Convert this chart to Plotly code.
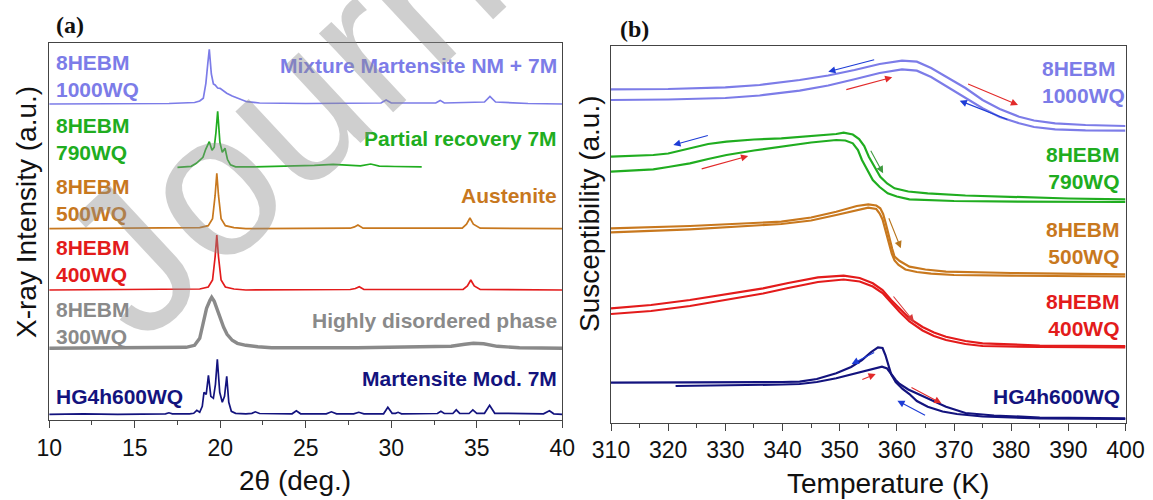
import plotly.graph_objects as go

# ---------------- (a) XRD patterns ----------------
# 2-theta positions (deg.) and intensity above each pattern's own baseline (a.u.)
hg_tt = [10, 12, 14, 16, 16.8, 17.0, 17.2, 18.2, 18.45, 18.63, 18.8, 18.95, 19.05, 19.18, 19.31,
         19.45, 19.6, 19.72, 19.83, 19.97, 20.12, 20.25, 20.38, 20.5, 20.65, 20.9, 21.5, 21.85,
         22.05, 22.3, 24.2, 24.45, 24.7, 26.2, 26.5, 26.8, 27.8, 28.1, 28.4, 29.55, 29.8, 30.05,
         30.25, 30.4, 30.6, 32.7, 32.9, 33.1, 33.6, 33.8, 34.0, 34.55, 34.77, 35.0, 35.45, 35.75,
         36.05, 38.9, 39.25, 39.5, 40]
hg_int = [0, 0.5, 0, 0.5, 0.5, 1.5, 0.5, 0.5, 1, 4, 2, 8, 22, 20, 39,
          18, 16, 30, 55, 22, 12, 18, 38, 12, 3, 1, 0.5, 1,
          2.5, 0.8, 0.5, 3.5, 0.5, 0.5, 2.5, 0.5, 0.5, 2, 0.5, 0.5, 7, 1,
          1, 2, 0.5, 0.8, 3, 0.8, 0.8, 4.5, 1, 0.8, 4.5, 1, 1, 9,
          1, 0.5, 3.5, 0.5, 0]

wq300_tt = [10, 14, 17, 18.0, 18.5, 18.8, 19.0, 19.2, 19.4, 19.5, 19.65, 19.8, 20.0, 20.2, 20.4,
            20.7, 21.0, 21.5, 22.2, 23, 28, 32, 33.5, 34.3, 34.8, 35.4, 36.2, 37.5, 40]
wq300_int = [0, 0.5, 0.5, 1, 3, 10, 25, 40, 48, 51, 47, 40, 30, 21, 14,
             8, 5, 3, 1.5, 0.5, 0.5, 1, 2, 4, 5, 4.5, 2, 0.5, 0]

wq400_tt = [10, 15, 18.8, 19.3, 19.55, 19.7, 19.8, 19.9, 20.05, 20.3, 20.8, 21.5, 27.6, 27.9,
            28.13, 28.4, 34.2, 34.45, 34.65, 34.85, 35.2, 40]
wq400_int = [0, 0.5, 1, 3, 10, 33, 55, 33, 10, 3, 1, 0, 0.5, 1.5,
             3.3, 0.5, 0.5, 4, 10, 4, 0.5, 0]

wq500_tt = [10, 15, 18.8, 19.3, 19.55, 19.7, 19.8, 19.9, 20.05, 20.3, 20.8, 21.5, 27.6, 27.85,
            28.05, 28.35, 34.15, 34.4, 34.6, 34.8, 35.2, 40]
wq500_int = [0, 0.5, 1, 3, 10, 33, 55.4, 33, 10, 3, 1, 0, 0.5, 1.8,
             3.7, 0.5, 0.5, 4.5, 10.7, 4.5, 0.5, 0]

wq790_tt = [17.5, 18.0, 18.3, 18.6, 18.99, 19.15, 19.36, 19.52, 19.65, 19.75, 19.85, 19.98, 20.12,
            20.28, 20.42, 20.6, 20.9, 22, 24, 25.5, 26.6, 27.5, 28.2, 28.8, 29.3, 30.2, 31.78]
wq790_int = [0, 0.5, 1, 4, 10, 18, 25.6, 17, 20, 35, 56, 25, 15,
             19, 8, 2.5, 0.5, 0.5, 1, 2, 3, 2, 1.5, 3.3, 1.2, 0.8, 0.5]

wq1000_tt = [10, 14, 17, 18.5, 18.8, 19.01, 19.16, 19.27, 19.36, 19.48, 19.6, 19.7, 19.85, 19.99,
             20.2, 20.38, 20.7, 21.06, 21.55, 22.3, 25, 29.4, 29.7, 30.0, 32.6, 32.86, 33.1,
             35.45, 35.77, 36.1, 38, 40]
wq1000_int = [0, 0.5, 0.5, 1.5, 3, 5.7, 20.7, 40, 54.7, 30, 20, 19, 16, 15.7,
              13, 10.7, 8, 5.7, 2.3, 1, 0.5, 1, 4, 1, 1, 3.6, 1,
              2, 7.6, 2, 0.5, 0]

# vertical stacking offsets of the six patterns
xrd_offset_hg = 5.7
xrd_offset_300 = 71.7
xrd_offset_400 = 130.0
xrd_offset_500 = 191.3
xrd_offset_790 = 252.7
xrd_offset_1000 = 316.0

# ---------------- (b) susceptibility loops ----------------
lav_T_up = [310, 320, 330, 336, 343, 348, 352.6, 357, 360.9, 363.5, 366, 368.6, 372, 375, 378,
            381.4, 384, 387.7, 393, 400]
lav_chi_up = [333.2, 333.5, 335.2, 337.5, 342.5, 347, 352.5, 358.5, 361.8, 360.8, 354.5, 345.8,
              334.5, 322.5, 313.5, 305.8, 302, 299.2, 297.5, 296.5]
lav_T_dn = lav_T_up
lav_chi_dn = [322.5, 323, 324.5, 327, 331.8, 337, 343.2, 349.5, 353.2, 351.8, 345.5, 336.5, 325,
              314.2, 305.5, 299.2, 295.5, 293.2, 292.2, 291.8]

grn_T_up = [310, 317.4, 320, 323.8, 327, 330.2, 335, 339.8, 345, 349.4, 350.7, 352.3, 353.4, 354.3,
            355.1, 356.1, 357.1, 358.3, 359.6, 362, 365.4, 372, 381.4, 390, 400]
grn_chi_up = [265.8, 267.5, 269, 274.2, 278.5, 280.8, 283, 284.2, 286.5, 288.5, 289.8, 288, 283.5,
              276.5, 265.8, 255.5, 245.8, 239, 234.2, 231, 229.2, 227, 225.2, 224, 223.2]
grn_T_dn = [310, 317.4, 320, 323.8, 327, 330.2, 335, 339.8, 345, 349.4, 351, 352.3, 353.2, 353.9,
            354.9, 355.8, 357, 358.4, 360, 362.2, 370, 381.4, 400]
grn_chi_dn = [250.8, 253.2, 255.5, 259.2, 263.5, 267.5, 272, 275.8, 280, 282.5, 282, 279.2, 272.5,
              262.5, 252.5, 242.5, 235.5, 229.2, 226, 223.2, 221.5, 220.8, 220.5]

org_T_up = [310, 323.8, 339.8, 345, 349.4, 353, 355, 356.4, 357.1, 357.6, 358.0, 358.4, 358.8,
            359.2, 359.6, 360.5, 362.2, 365, 368.6, 380, 400]
org_chi_up = [194.2, 196.5, 200.8, 205, 210.8, 216.5, 218.2, 217, 214.2, 208.5, 200.5, 190.5,
              181.5, 173.5, 165.8, 161.5, 155.8, 153, 150.8, 149.5, 148.2]
org_T_dn = [310, 323.8, 339.8, 345, 349.4, 353, 355, 356.4, 357.0, 357.5, 357.9, 358.3, 358.7,
            359.1, 359.6, 360.3, 361.5, 363.5, 366, 370, 380, 400]
org_chi_dn = [190.2, 193.2, 198.5, 202, 207.5, 212.5, 214.8, 213.5, 209, 203, 195, 186, 177,
              169, 162, 157.5, 153, 150.5, 148.8, 147.5, 146.8, 146]

red_T = [310, 317, 323.8, 330, 336.6, 341, 346.2, 350.7, 353.5, 355.8, 357.5, 359, 360.5, 362.2,
         364.5, 366.5, 368.6, 372, 375, 385, 400]
red_chi_up = [114.2, 117.5, 122.5, 128, 134.2, 139.5, 145.2, 146.8, 144.5, 139.2, 132.5, 122.5,
              113.5, 104.2, 95.5, 90, 85.8, 81.5, 79.2, 77, 76.5]
red_chi_dn = [108.5, 111.5, 116.5, 122.5, 129, 134.5, 140.5, 143, 141, 136, 129.5, 120, 110.5,
              101, 92, 86.5, 82.5, 78.5, 76.5, 75.5, 75.2]

nav_T_cool = [310, 320, 330, 340, 343, 346, 349.4, 352, 353.9, 355.5, 356.7, 357.5, 358, 358.5,
              359, 359.8, 361, 362.2, 363.5, 365.4, 368, 370.5, 375, 385, 400]
nav_chi_cool = [39.8, 39.8, 40, 40.5, 40.8, 43.5, 49.2, 55.5, 62.5, 70.5, 75.2, 74.5, 67.5, 57.5,
                48.5, 40.5, 33.5, 28.5, 21.5, 15.8, 11, 8.5, 6, 4.2, 3.5]
nav_T_heat = [321.3, 330, 340, 343, 346, 349.4, 352, 353.9, 355.8, 357.4, 358.3, 359, 359.8, 360.5,
              362, 364.1, 366, 368.6, 372, 377, 385, 400]
nav_chi_heat = [36.5, 37, 38, 38.5, 40.5, 44.2, 48, 50.8, 54, 55.8, 54, 48.5, 42.5, 38.5,
                33, 27.5, 22.5, 15.8, 9.5, 7, 5, 4.2]

# heating / cooling direction arrows: tail (T, chi) -> head (T, chi)
arrow_tail_T = [356.3, 350.9, 372.2, 379.6, 327.2, 325.6, 355.3, 358.5, 359.2, 356.3, 353.7, 362.3, 365.2]
arrow_tail_chi = [363.2, 332.5, 339.2, 302.5, 287.5, 253.2, 273.2, 205.8, 127.5, 70.8, 42.5, 35.8, 6.5]
arrow_head_T = [348.0, 359.2, 381.2, 371.0, 320.9, 334.0, 357.6, 360.7, 363.0, 352.1, 356.3, 367.8, 360.1]
arrow_head_chi = [350.8, 345.2, 317.5, 321.8, 277.5, 266.5, 249.2, 174.2, 100.8, 58.5, 48.5, 19.2, 21.8]
arrow_kind = ["cool", "heat", "heat", "cool", "cool", "heat", "green", "orange", "red",
              "cool", "heat", "heat", "cool"]

LAV = "#7c7ce8"
GRN = "#20ad20"
ORG = "#c8781e"
RED = "#e31b1b"
GRY = "#8a8a8a"
NAV = "#13137e"
ARROW_COLORS = {"cool": "#1d3cd6", "heat": "#e22a2a", "green": "#3f9a3f",
                "orange": "#b8761e", "red": "#d83a3a"}

SANS = "Liberation Sans, Arial, sans-serif"
SERIF = "Liberation Serif, Times New Roman, serif"

W, H = 1153, 500


def px_x(p):
    return p / W


def px_y(p):
    return 1 - p / H


fig = go.Figure()

# ---- panel (a) traces ----
xrd = [
    (hg_tt, hg_int, xrd_offset_hg, NAV, 1.7),
    (wq300_tt, wq300_int, xrd_offset_300, GRY, 3.4),
    (wq400_tt, wq400_int, xrd_offset_400, RED, 1.7),
    (wq500_tt, wq500_int, xrd_offset_500, ORG, 1.7),
    (wq790_tt, wq790_int, xrd_offset_790, GRN, 1.7),
    (wq1000_tt, wq1000_int, xrd_offset_1000, LAV, 1.7),
]
for tt, inten, off, col, lw in xrd:
    fig.add_trace(go.Scatter(x=tt, y=[v + off for v in inten], mode="lines",
                             line=dict(color=col, width=lw), xaxis="x", yaxis="y",
                             showlegend=False, hoverinfo="skip"))

# ---- panel (b) traces ----
loops = [
    (lav_T_up, lav_chi_up, LAV), (lav_T_dn, lav_chi_dn, LAV),
    (grn_T_up, grn_chi_up, GRN), (grn_T_dn, grn_chi_dn, GRN),
    (org_T_up, org_chi_up, ORG), (org_T_dn, org_chi_dn, ORG),
    (red_T, red_chi_up, RED), (red_T, red_chi_dn, RED),
    (nav_T_cool, nav_chi_cool, NAV), (nav_T_heat, nav_chi_heat, NAV),
]
for T, chi, col in loops:
    fig.add_trace(go.Scatter(x=T, y=chi, mode="lines", line=dict(color=col, width=2.2),
                             xaxis="x2", yaxis="y2", showlegend=False, hoverinfo="skip"))

ann = []


def lab_font(c):
    return dict(family=SANS, size=21, color=c)


# sample labels, panel (a)
left_labels_a = [("<b>8HEBM<br>1000WQ</b>", 344.5, LAV), ("<b>8HEBM<br>790WQ</b>", 280.7, GRN),
                 ("<b>8HEBM<br>500WQ</b>", 220.5, ORG), ("<b>8HEBM<br>400WQ</b>", 159.5, RED),
                 ("<b>8HEBM<br>300WQ</b>", 97.0, GRY), ("<b>HG4h600WQ</b>", 23.3, NAV)]
for txt, yv, col in left_labels_a:
    ann.append(dict(x=10.26, y=yv, xref="x", yref="y", text=txt, showarrow=False,
                    xanchor="left", yanchor="middle", align="left", font=lab_font(col)))
right_labels_a = [("<b>Mixture Martensite NM + 7M</b>", 355, LAV),
                  ("<b>Partial recovery 7M</b>", 282, GRN),
                  ("<b>Austenite</b>", 225, ORG),
                  ("<b>Highly disordered phase</b>", 100, GRY),
                  ("<b>Martensite Mod. 7M</b>", 42, NAV)]
for txt, yv, col in right_labels_a:
    ann.append(dict(x=39.8, y=yv, xref="x", yref="y", text=txt, showarrow=False,
                    xanchor="right", yanchor="middle", align="right", font=lab_font(col)))

# sample labels, panel (b)
ann.append(dict(x=385.1, y=340, xref="x2", yref="y2", text="<b>8HEBM<br>1000WQ</b>",
                showarrow=False, xanchor="left", yanchor="middle", align="left",
                font=lab_font(LAV)))
right_labels_b = [("<b>8HEBM<br>790WQ</b>", 254.7, GRN), ("<b>8HEBM<br>500WQ</b>", 179.5, ORG),
                  ("<b>8HEBM<br>400WQ</b>", 107.5, RED), ("<b>HG4h600WQ</b>", 25.8, NAV)]
for txt, yv, col in right_labels_b:
    ann.append(dict(x=399.4, y=yv, xref="x2", yref="y2", text=txt, showarrow=False,
                    xanchor="right", yanchor="middle", align="right", font=lab_font(col)))

# direction arrows
for tT, tc, hT, hc, kind in zip(arrow_tail_T, arrow_tail_chi, arrow_head_T, arrow_head_chi, arrow_kind):
    ann.append(dict(x=hT, y=hc, ax=tT, ay=tc, xref="x2", yref="y2", axref="x2", ayref="y2",
                    text="", showarrow=True, arrowhead=2, arrowsize=1.3, arrowwidth=1.1,
                    arrowcolor=ARROW_COLORS[kind]))


def paper_text(x, y, text, font, angle=0):
    return dict(x=px_x(x), y=px_y(y), xref="paper", yref="paper", text=text, textangle=angle,
                showarrow=False, xanchor="center", yanchor="middle", font=font)


title_font = dict(family=SANS, size=28, color="#111")
ann += [
    paper_text(27, 212, "X-ray Intensity (a.u.)", title_font, -90),
    paper_text(590, 214, "Susceptibility (a.u.)", title_font, -90),
    paper_text(295, 480, "2θ (deg.)", title_font),
    paper_text(888, 483, "Temperature (K)", title_font),
    paper_text(70, 25, "<b>(a)</b>", dict(family=SERIF, size=24, color="#111")),
    paper_text(634, 29, "<b>(b)</b>", dict(family=SERIF, size=24, color="#111")),
    # journal watermark
    paper_text(672, -246, "Journal Pre-proof",
               dict(family=SANS, size=205, color="rgba(140,140,140,0.42)"), -43),
]

axis_common = dict(showline=True, linecolor="#444", linewidth=1, mirror=True, showgrid=False,
                   zeroline=False, automargin=False)
xtick_common = dict(ticks="outside", ticklen=7, tickwidth=1, tickcolor="#444",
                    tickfont=dict(family=SANS, size=23, color="#111"))

fig.update_layout(
    width=W, height=H, margin=dict(l=0, r=0, t=0, b=0, autoexpand=False),
    paper_bgcolor="white", plot_bgcolor="white", showlegend=False,
    xaxis=dict(domain=[px_x(49.2), px_x(562.3)], range=[10, 40], dtick=5, tick0=10,
               minor=dict(ticks="outside", ticklen=4, dtick=2.5, tickcolor="#444"),
               anchor="y", **axis_common, **xtick_common),
    yaxis=dict(domain=[px_y(420), px_y(43.3)], range=[0, 376.7], showticklabels=False,
               ticks="", anchor="x", **axis_common),
    xaxis2=dict(domain=[px_x(611), px_x(1125.5)], range=[310, 400], dtick=10, tick0=310,
                minor=dict(ticks="outside", ticklen=4, dtick=5, tickcolor="#444"),
                anchor="y2", **axis_common, **xtick_common),
    yaxis2=dict(domain=[px_y(422.5), px_y(46)], range=[0, 376.5], showticklabels=False,
                ticks="", anchor="x2", **axis_common),
    annotations=ann,
)

fig.write_html("out.html")
